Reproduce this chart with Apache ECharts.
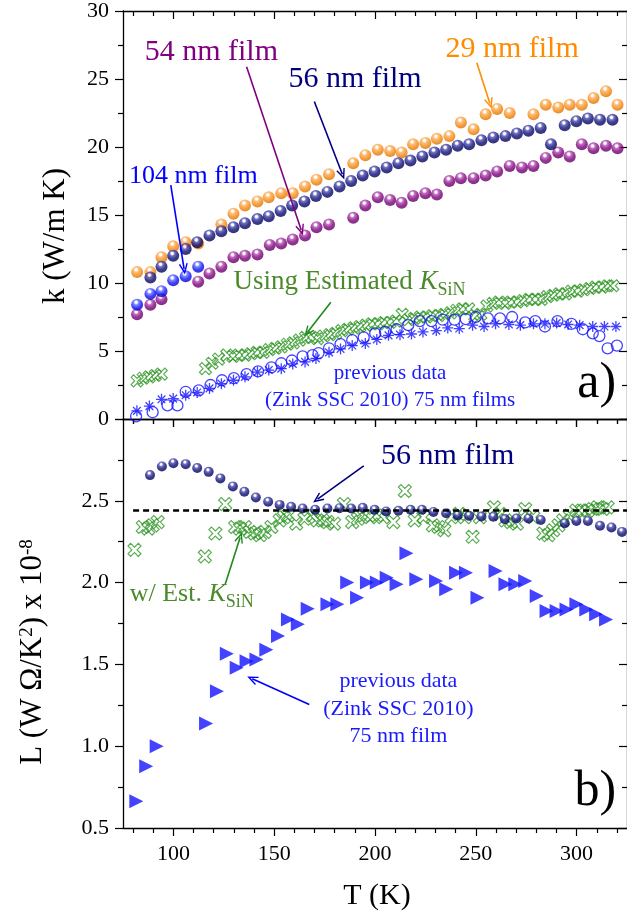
<!DOCTYPE html>
<html><head><meta charset="utf-8">
<script src="https://cdn.jsdelivr.net/npm/echarts@6/dist/echarts.min.js"></script>
<style>html,body{margin:0;padding:0;background:#fff}#c{width:627px;height:919px}</style>
</head><body><div id="c"></div><script>
// ---------------- data (T in K) ----------------
const k29nm = [[82.0,10.8],[88.6,10.8],[94.1,11.9],[99.9,12.7],[106.1,13.0],[112.3,12.9],[123.8,14.3],[129.8,15.1],[135.5,15.7],[141.7,16.0],[147.3,16.3],[153.5,16.6],[159.2,16.6],[165.3,17.1],[171.0,17.6],[177.2,18.0],[189.2,18.8],[195.2,19.4],[201.4,19.8],[207.5,19.7],[213.2,19.6],[218.9,20.2],[225.0,20.3],[230.7,20.6],[236.9,20.8],[242.6,21.8],[248.9,21.3],[254.9,22.4],[260.6,22.8],[266.8,22.5],[278.6,22.4],[284.7,23.1],[290.9,22.9],[296.6,23.1],[302.6,23.1],[308.4,23.6],[314.6,24.1],[320.3,23.1]];
const k54nm = [[82.0,7.7],[88.6,8.4],[94.1,8.8],[112.3,10.1],[117.9,10.7],[123.8,11.2],[129.8,11.9],[135.5,12.0],[141.7,12.1],[147.8,12.8],[153.5,12.9],[159.2,13.2],[165.3,13.5],[171.0,14.1],[177.2,14.3],[189.2,14.8],[195.2,15.7],[201.4,16.3],[207.5,16.1],[213.2,15.9],[218.9,16.4],[225.0,16.6],[230.7,16.5],[236.9,17.5],[242.6,17.7],[248.9,17.7],[254.9,17.9],[260.6,18.2],[266.8,18.6],[272.9,18.5],[278.6,18.6],[284.7,19.2],[290.9,19.6],[296.6,19.3],[302.6,20.2],[308.4,19.9],[314.6,20.1],[320.3,19.9]];
const k56nm = [[88.6,10.4],[94.1,11.2],[99.9,12.0],[106.1,12.5],[111.8,13.0],[117.9,13.5],[123.8,13.8],[129.8,14.1],[135.5,14.4],[141.7,14.7],[147.3,14.9],[153.2,15.3],[158.9,15.7],[165.0,16.0],[170.7,16.4],[176.4,16.7],[182.4,17.1],[188.2,17.5],[193.9,17.9],[199.8,18.2],[205.8,18.5],[211.6,18.8],[217.6,19.0],[223.5,19.3],[229.5,19.6],[235.3,19.8],[241.0,20.1],[246.7,20.2],[252.8,20.5],[258.7,20.7],[264.7,20.8],[270.4,21.0],[276.1,21.2],[282.2,21.4],[287.3,20.2],[294.1,21.6],[299.9,21.9],[305.6,22.1],[311.6,22.0],[317.8,22.0]];
const k104nm = [[82.0,8.4],[88.6,9.2],[94.1,9.4],[99.9,10.2],[106.1,10.5],[112.3,11.2]];
const kEstSiN = [[82,2.8],[85,3.0],[88,3.1],[91,3.2],[94,3.3],[115.9,3.7],[119.2,4.1],[122.4,4.4],[126.5,4.7],[129.5,4.6],[132.5,4.7],[135.5,4.7],[138.5,4.8],[141.5,4.9],[144.5,4.9],[147.5,5.1],[150.5,5.2],[153.5,5.3],[156.5,5.5],[159.5,5.6],[162.5,5.8],[165.5,6.0],[168.5,6.0],[171.5,5.9],[174.5,6.1],[177.5,6.2],[180.5,6.3],[183.5,6.5],[186.5,6.6],[189.5,6.7],[192.5,6.8],[195.5,6.9],[198.5,7.0],[201.5,7.0],[204.5,7.1],[207.5,7.1],[210.5,7.2],[213.5,7.7],[216.5,7.3],[219.5,7.4],[222.5,7.5],[225.5,7.5],[228.5,7.6],[231.5,7.6],[234.5,7.7],[237.5,7.8],[240.5,8.0],[243.5,8.1],[246.5,8.1],[249.5,7.6],[252.5,7.7],[255.5,8.3],[258.5,8.5],[261.5,8.6],[264.5,8.5],[267.5,8.6],[270.5,8.6],[273.5,8.7],[276.5,8.8],[279.5,8.8],[282.5,8.8],[285.5,9.0],[288.5,9.1],[291.5,9.2],[294.5,9.2],[297.5,9.4],[300.5,9.4],[303.5,9.5],[306.5,9.6],[309.5,9.7],[312.5,9.7],[315.5,9.8],[318.0,9.8]];
const kZinkCircles = [[81.5,0.2],[89.7,0.5],[97.1,1.0],[102.0,1.0],[106.1,2.0],[112.6,2.1],[118.4,2.5],[124.1,2.85],[130.0,3.0],[136.3,3.3],[142.0,3.5],[148.6,3.8],[153.5,4.1],[158.8,4.3],[164.1,4.6],[169.0,4.7],[172.0,4.85],[177.2,5.2],[182.9,5.5],[188.7,5.8],[194.4,6.0],[200.1,6.3],[205.0,6.4],[210.7,6.6],[216.5,6.9],[222.2,7.2],[228.0,7.2],[233.6,7.3],[239.5,7.3],[245.0,7.35],[250.0,7.5],[256.0,7.4],[262.0,7.4],[268.0,7.5],[274.5,7.1],[279.5,7.2],[284.3,6.8],[290.5,7.2],[297.4,7.0],[303.1,6.6],[308.0,6.3],[311.3,6.1],[315.4,5.2],[320.0,5.4]];
const kZinkStars = [[81.9,0.6],[88.1,0.95],[94.1,1.45],[99.9,1.5],[106.1,1.75],[111.8,1.95],[117.9,2.25],[123.8,2.6],[129.8,2.85],[135.5,3.1],[141.7,3.45],[147.3,3.6],[153.5,3.7],[159.2,4.05],[165.3,4.2],[170.7,4.45],[177.2,4.9],[182.9,5.15],[188.7,5.4],[195.2,5.55],[200.9,5.85],[206.7,6.15],[212.4,6.2],[218.1,6.25],[223.8,6.4],[230.4,6.5],[236.1,6.7],[241.8,6.65],[248.4,6.9],[254.1,6.8],[259.8,7.0],[266.4,6.95],[272.1,6.9],[278.6,7.0],[284.3,7.0],[290.1,7.05],[295.8,6.95],[301.5,6.9],[308.0,6.8],[313.8,6.8],[319.5,6.8]];
const L56nm = [[88.4,2.657],[94.3,2.71],[100.0,2.73],[106.1,2.724],[111.8,2.70],[117.5,2.677],[123.3,2.637],[129.5,2.588],[135.2,2.555],[140.9,2.52],[147.0,2.494],[152.7,2.475],[158.4,2.463],[164.1,2.453],[170.3,2.445],[176.4,2.453],[182.4,2.455],[188.2,2.453],[193.9,2.457],[199.8,2.445],[205.5,2.435],[211.6,2.439],[217.6,2.445],[223.3,2.445],[229.0,2.432],[235.3,2.424],[241.0,2.412],[246.7,2.408],[252.8,2.404],[258.7,2.402],[264.4,2.388],[270.1,2.392],[276.1,2.392],[282.2,2.383],[294.1,2.363],[299.9,2.377],[305.6,2.377],[311.6,2.347],[317.3,2.337],[322.5,2.31]];
const LEstSiN = [[80.7,2.20],[84.8,2.34],[87.5,2.33],[89.7,2.35],[92.2,2.37],[115.6,2.16],[120.8,2.30],[125.7,2.48],[130.6,2.34],[133.0,2.33],[135.5,2.34],[138.0,2.31],[140.4,2.30],[143.0,2.29],[145.3,2.31],[148.6,2.34],[152.7,2.38],[154.8,2.40],[156.8,2.41],[160.9,2.36],[165.0,2.39],[169.0,2.41],[171.5,2.38],[174.0,2.38],[176.5,2.37],[179.7,2.36],[184.6,2.48],[188.7,2.37],[191.5,2.39],[194.4,2.41],[197.5,2.40],[200.9,2.41],[204.0,2.40],[209.1,2.37],[214.8,2.56],[219.7,2.38],[224.0,2.40],[228.7,2.35],[231.5,2.34],[234.4,2.32],[238.0,2.40],[241.8,2.42],[244.5,2.40],[248.4,2.28],[252.0,2.40],[259.0,2.46],[262.0,2.42],[264.7,2.38],[267.5,2.37],[270.4,2.36],[274.5,2.45],[278.5,2.40],[283.5,2.30],[286.0,2.29],[288.4,2.32],[291.0,2.35],[293.3,2.38],[296.5,2.41],[299.9,2.44],[302.5,2.44],[305.6,2.44],[308.0,2.45],[310.5,2.46],[313.0,2.45],[315.4,2.46]];
const LZink75nm = [[81.6,0.663],[86.5,0.877],[91.7,1.0],[116.2,1.138],[121.6,1.336],[126.5,1.565],[131.4,1.48],[136.3,1.52],[141.2,1.53],[146.1,1.59],[151.9,1.673],[156.8,1.775],[161.7,1.745],[166.6,1.84],[176.4,1.867],[181.3,1.867],[186.2,2.0],[191.1,1.908],[196.0,2.0],[200.9,2.0],[205.8,2.03],[210.7,1.99],[215.6,2.18],[220.5,2.02],[230.3,2.01],[235.3,1.96],[240.2,2.06],[245.1,2.06],[250.8,1.908],[259.8,2.071],[264.7,1.99],[269.6,1.99],[274.5,2.01],[280.2,1.918],[285.1,1.826],[290.1,1.826],[295.0,1.836],[299.9,1.867],[304.8,1.836],[309.7,1.806],[314.6,1.775]];
const LWFref = 2.44;
const refRange = [80, 325];
const xMajorTicks = [100,150,200,250,300];
const xMinorTicks = [80,90,110,120,130,140,160,170,180,190,210,220,230,240,260,270,280,290,310,320];

// ---------------- styling ----------------
const FONT = 'Liberation Serif';
const C = {orange:'#f7901e', purple:'#800080', navy:'#10107a', blue:'#1414ff', green:'#2f9626', gtext:'#4a8a2a', black:'#000'};
function ball(base, light, dark){
  return {type:'radial', x:0.42, y:0.3, r:0.75, colorStops:[
    {offset:0, color:'#ffffff'},{offset:0.12, color:'#ffffff'},{offset:0.28, color:light},{offset:0.6, color:base},{offset:1, color:dark}]};
}
const xPath = 'path://M0,2 L2,0 L5,3 L8,0 L10,2 L7,5 L10,8 L8,10 L5,7 L2,10 L0,8 L3,5 Z';
const starPath = 'path://M5,0 L5,10 M0,5 L10,5 M1.5,1.5 L8.5,8.5 M1.5,8.5 L8.5,1.5';
const arrowHead = 'path://M5,0 L10,12 L8.6,12.6 L5,4.2 L1.4,12.6 L0,12 Z';

const AX = {lineStyle:{color:'#000', width:1.3}};
function xAx(grid, pos, ticks, len, inside, labels){
  return {type:'value', gridIndex:grid, position:pos, min:75, max:325,
    axisLine:{show: ticks===xMajorTicks, onZero:false, ...AX},
    axisTick:{show:true, customValues:ticks, inside:inside, length:len, lineStyle:{color:'#000', width:1.2}},
    axisLabel:{show:labels, customValues:xMajorTicks, margin:15, color:'#000', fontFamily:FONT, fontSize:22},
    splitLine:{show:false}};
}
function yAx(grid, pos, min, max, interval, inside, labels, fmt){
  return {type:'value', gridIndex:grid, position:pos, min:min, max:max, interval:interval,
    axisLine:{show:true, onZero:false, ...AX},
    axisTick:{show:true, inside:inside, length:8, lineStyle:{color:'#000', width:1.2}},
    minorTick:{show:true, splitNumber:2, length:5, lineStyle:{color:'#000', width:1.2}},
    axisLabel:{show:labels, margin:14, color:'#000', fontFamily:FONT, fontSize:22, formatter:fmt},
    splitLine:{show:false}};
}

const chart = echarts.init(document.getElementById('c'), null, {renderer:'canvas'});

function arrow(from, to, color){
  return [{coord:from, lineStyle:{color:color, width:1.6, type:'solid'}}, {coord:to}];
}

const option = {
  animation:false,
  backgroundColor:'#fff',
  grid:[{left:123, top:9, width:510, height:410},{left:123, top:419, width:510, height:409}],
  xAxis:[
    xAx(0,'bottom',xMajorTicks,8,false,false), xAx(0,'bottom',xMinorTicks,5,false,false),
    xAx(0,'top',xMajorTicks,8,true,false), xAx(0,'top',xMinorTicks,5,true,false),
    xAx(1,'bottom',xMajorTicks,8,false,true), xAx(1,'bottom',xMinorTicks,5,false,false),
    xAx(1,'top',xMajorTicks,8,true,false), xAx(1,'top',xMinorTicks,5,true,false)
  ],
  yAxis:[
    yAx(0,'left',0,30,5,false,true,v=>String(v)),
    yAx(0,'right',0,30,5,true,false),
    yAx(1,'left',0.5,3.0,0.5,false,true,v=>(Math.abs(v-3)<1e-9?'':v.toFixed(1))),
    yAx(1,'right',0.5,3.0,0.5,true,false)
  ],
  series:[
    // ---- panel a ----
    {type:'scatter', xAxisIndex:0, yAxisIndex:0, data:kEstSiN, symbol:xPath, symbolSize:12,
      itemStyle:{color:'rgba(0,0,0,0)', borderColor:C.green, borderWidth:1.15}},
    {type:'scatter', xAxisIndex:0, yAxisIndex:0, data:kZinkCircles, symbol:'circle', symbolSize:11,
      itemStyle:{color:'rgba(0,0,0,0)', borderColor:C.blue, borderWidth:1.3}},
    {type:'scatter', xAxisIndex:0, yAxisIndex:0, data:kZinkStars, symbol:starPath, symbolSize:11,
      itemStyle:{color:'rgba(0,0,0,0)', borderColor:C.blue, borderWidth:1.3}},
    {type:'scatter', xAxisIndex:0, yAxisIndex:0, data:k29nm, symbol:'circle', symbolSize:12,
      itemStyle:{color:ball('#f88a10','#fbb060','#d06a00')}},
    {type:'scatter', xAxisIndex:0, yAxisIndex:0, data:k54nm, symbol:'circle', symbolSize:12,
      itemStyle:{color:ball('#800080','#b050b0','#560056')}},
    {type:'scatter', xAxisIndex:0, yAxisIndex:0, data:k56nm, symbol:'circle', symbolSize:12,
      itemStyle:{color:ball('#0c0c78','#5050b0','#000048')}},
    {type:'scatter', xAxisIndex:0, yAxisIndex:0, data:k104nm, symbol:'circle', symbolSize:12,
      itemStyle:{color:ball('#1010ff','#6070ff','#0000b0')},
      markLine:{silent:true, symbol:['none', arrowHead], symbolSize:[9,11], label:{show:false},
        data:[
          arrow([136.3,25.9],[163.4,13.9],C.purple),
          arrow([169.9,23.35],[183.8,17.99],'#000080'),
          arrow([250.5,26.2],[257.0,23.2],'#ff8c00'),
          arrow([98.7,17.2],[105.3,11.03],'#0000ff'),
          arrow([178.1,8.59],[166.6,6.39],'#1e8a1e')
        ]}},
    // ---- panel b ----
    {type:'scatter', xAxisIndex:4, yAxisIndex:2, data:LZink75nm, symbol:'triangle', symbolRotate:-90, symbolSize:14,
      itemStyle:{color:C.blue}},
    {type:'scatter', xAxisIndex:4, yAxisIndex:2, data:LEstSiN, symbol:xPath, symbolSize:13,
      itemStyle:{color:'rgba(0,0,0,0)', borderColor:C.green, borderWidth:1.15}},
    {type:'line', xAxisIndex:4, yAxisIndex:2, data:refRange.map(t=>[t,LWFref]), symbol:'none',
      lineStyle:{color:'#000', width:2.5, type:[6,4]}},
    {type:'scatter', xAxisIndex:4, yAxisIndex:2, data:L56nm, symbol:'circle', symbolSize:10,
      itemStyle:{color:ball('#0c0c78','#5050b0','#000048')},
      markLine:{silent:true, symbol:['none', arrowHead], symbolSize:[9,11], label:{show:false},
        data:[
          arrow([194.4,2.714],[171.5,2.51],'#000080'),
          arrow([125.7,1.99],[133.1,2.276],'#1e8a1e'),
          arrow([167.4,1.255],[139.1,1.412],'#0000ff')
        ]}}
  ]
};
chart.setOption(option);

// ---------------- annotations (placed through the axes) ----------------
function px(g, x, y){ return chart.convertToPixel(g===0?{xAxisIndex:0,yAxisIndex:0}:{xAxisIndex:4,yAxisIndex:2}, [x,y]); }
function txt(g, x, y, text, color, size, align, extra){
  const p = px(g, x, y);
  return Object.assign({type:'text', x:p[0], y:p[1], z:100,
    style:{text:text, fill:color, fontFamily:FONT, fontSize:size, align:align||'center', verticalAlign:'middle'}}, extra||{});
}
function ksin(prefix, color, size){
  return {text:'{a|'+prefix+'}{k|K}{s|SiN}', fill:color, fontFamily:FONT, fontSize:size, verticalAlign:'middle', align:'left',
    rich:{a:{fontFamily:FONT, fontSize:size, fill:color, color:color, lineHeight:size, verticalAlign:'top'},
          k:{fontFamily:FONT, fontSize:size, fontStyle:'italic', fill:color, color:color, lineHeight:size, verticalAlign:'top'},
          s:{fontFamily:FONT, fontSize:Math.round(size*0.68), fill:color, color:color, lineHeight:Math.round(size*0.68), verticalAlign:'top', padding:[Math.round(size*0.45),0,0,0]}}};
}
const g = [
  txt(0,118.8,27.0,'54 nm film',C.purple,30),
  txt(0,190.1,24.96,'56 nm film','#000080',30),
  txt(0,268.0,27.16,'29 nm film','#ff8c00',30),
  txt(0,109.9,17.86,'104 nm film','#0000ff',26),
  txt(0,207.5,3.37,'previous data','#1a1aff',21),
  txt(0,207.5,1.39,'(Zink SSC 2010) 75 nm films','#1a1aff',21),
  txt(0,319.6,2.56,'a)','#000',50,'right'),
  txt(1,236.1,2.775,'56 nm film','#000080',30),
  txt(1,211.6,1.397,'previous data','#1a1aff',22),
  txt(1,211.6,1.224,'(Zink SSC 2010)','#1a1aff',22),
  txt(1,211.6,1.059,'75 nm film','#1a1aff',22),
  txt(1,319.6,0.722,'b)','#000',50,'right')
];
(function(){ const p = px(0,129.8,10.05); g.push({type:'text', x:p[0], y:p[1], z:100, style:ksin('Using Estimated ', C.gtext, 27)}); })();
(function(){ const p = px(1,78.3,1.928); g.push({type:'text', x:p[0], y:p[1], z:100, style:ksin('w/ Est. ', C.gtext, 26)}); })();
// axis titles
g.push({type:'text', x:56, y:236, rotation:Math.PI/2, z:100,
  style:{text:'k (W/m K)', fill:'#000', fontFamily:FONT, fontSize:31, align:'center', verticalAlign:'middle'}});
g.push({type:'text', x:33, y:652, rotation:Math.PI/2, z:100,
  style:{text:'{n|L (W Ω/K}{p|2}{n|) x 10}{p|-8}', fill:'#000', fontFamily:FONT, fontSize:31, align:'center', verticalAlign:'middle',
    rich:{n:{fontFamily:FONT, fontSize:31, lineHeight:31, verticalAlign:'bottom', padding:[7,0,0,0]},
          p:{fontFamily:FONT, fontSize:19, lineHeight:19, verticalAlign:'top'}}}});
g.push({type:'text', x:377, y:896, z:100,
  style:{text:'T (K)', fill:'#000', fontFamily:FONT, fontSize:30, align:'center', verticalAlign:'middle'}});
chart.setOption({graphic:g});
</script></body></html>
